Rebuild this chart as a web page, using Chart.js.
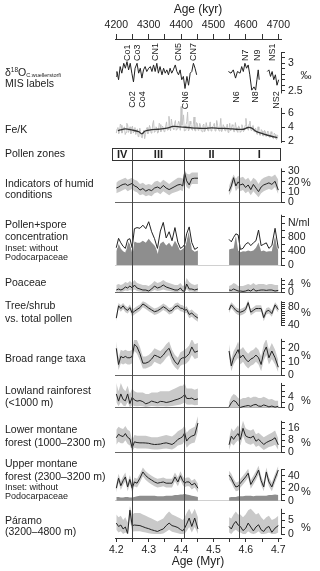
<!DOCTYPE html>
<html>
<head>
<meta charset="utf-8">
<script src="https://cdn.jsdelivr.net/npm/chart.js@4.4.1/dist/chart.umd.min.js"></script>
<style>
body{margin:0;background:#fff}
#wrap{position:relative;width:320px;height:571px;overflow:hidden;background:#fff}
canvas{display:block}
.lab{position:absolute;left:5px;white-space:nowrap;font-family:'Liberation Sans',Arial,sans-serif;font-size:10.5px;line-height:12px;color:#222}
.lab.small{font-size:9px;line-height:10px}
.lab sup{font-size:6.5px;vertical-align:4px;line-height:0}
.lab sub{font-size:5.5px;vertical-align:-1px;line-height:0}
</style>
</head>
<body>
<div id="wrap"><canvas id="chart" width="320" height="571"></canvas></div>
<script>
const FONT = "'Liberation Sans', Arial, sans-serif";

// axes
const myrTicks = [4.2, 4.25, 4.3, 4.35, 4.4, 4.45, 4.5, 4.55, 4.6, 4.65, 4.7];
const kyrTicks = [4200, 4250, 4300, 4350, 4400, 4450, 4500, 4550, 4600, 4650, 4700];

// pollen zones and MIS labels
const zoneNames = ['IV', 'III', 'II', 'I'];
const zoneEdges = [4.186, 4.25, 4.41, 4.578, 4.705];
const misUp = ['Co1', 'Co3', 'CN1', 'CN5', 'CN7', 'N7', 'N9', 'NS1'];
const misUpAge = [4.235, 4.266, 4.322, 4.392, 4.437, 4.598, 4.636, 4.681];
const misDown = ['Co2', 'Co4', 'CN6', 'N6', 'N8', 'NS2'];
const misDownAge = [4.249, 4.281, 4.413, 4.571, 4.631, 4.695];

// d18O C. wuellerstorfi
const d18Age = [4.200,4.202,4.207,4.212,4.217,4.223,4.228,4.233,4.238,4.243,
  4.248,4.253,4.258,4.264,4.269,4.274,4.279,4.284,4.289,4.294,
  4.300,4.305,4.310,4.315,4.320,4.325,4.330,4.335,4.341,4.346,
  4.351,4.356,4.361,4.366,4.371,4.376,4.382,4.387,4.392,4.397,
  4.402,4.407,4.412,4.418,4.423,4.428,4.433,4.438,4.443,4.448,
  4.500,
  4.546,4.554,4.561,4.568,4.574,4.582,4.587,4.592,4.597,4.602,4.607,4.612,4.618,4.625,4.630,4.634,4.638,4.641,
  4.650,
  4.666,4.671,4.676,4.681,4.686,4.691,4.696,4.701];
const d18 = [2.76,2.85,2.70,2.94,2.82,3.00,2.91,3.03,2.88,3.00,
  2.82,2.66,2.91,3.00,2.82,2.91,2.73,2.88,2.94,2.85,
  2.91,2.94,2.85,2.97,2.85,3.00,2.82,2.94,2.79,2.91,
  2.82,2.88,2.79,2.91,2.82,2.88,2.97,2.85,2.79,2.88,
  2.70,2.76,2.54,2.76,2.60,2.82,2.85,3.00,2.91,2.79,
  null,
  2.85,2.82,2.88,2.73,2.85,2.82,2.94,2.85,3.00,2.91,2.97,2.79,2.51,2.57,2.51,2.70,2.88,2.70,
  null,
  2.85,2.88,2.76,2.85,2.70,2.79,2.60,2.70];

// Fe/K (raw scanner values, two interleaved runs, and the smoothed curve)
const feAge = [4.200,4.205,4.210,4.215,4.220,4.225,4.230,4.235,4.240,4.245,
  4.250,4.255,4.260,4.265,4.270,4.275,4.280,4.285,4.290,4.295,
  4.300,4.305,4.310,4.315,4.320,4.325,4.330,4.335,4.340,4.345,
  4.350,4.355,4.360,4.365,4.370,4.375,4.380,4.385,4.390,4.395,
  4.400,4.405,4.410,4.415,4.420,4.425,4.430,4.435,4.440,4.445,
  4.450,4.455,4.460,4.465,4.470,4.475,4.480,4.485,4.490,4.495,
  4.500,4.505,4.510,4.515,4.520,4.525,4.530,4.535,4.540,4.545,
  4.550,4.555,4.560,4.565,4.570,4.575,4.580,4.585,4.590,4.595,
  4.600,4.605,4.610,4.615,4.620,4.625,4.630,4.635,4.640,4.645,
  4.650,4.655,4.660,4.665,4.670,4.675,4.680,4.685,4.690,4.695,
  4.700];
const feRaw = [3.2,4.0,3.4,4.3,3.5,4.1,3.3,4.4,3.6,3.1,
  4.2,3.5,3.0,3.8,2.9,3.4,2.5,3.6,3.0,4.0,
  3.3,3.9,3.4,5.0,3.5,3.9,3.3,4.4,3.6,4.0,
  3.5,4.8,3.7,4.3,5.2,3.9,4.6,3.6,4.4,4.6,
  7.0,4.9,3.5,4.4,6.2,3.7,4.5,3.6,5.5,3.5,
  4.6,3.8,4.2,3.4,4.5,3.6,4.1,3.5,4.8,3.7,
  4.3,3.5,5.0,3.8,4.2,3.4,4.4,3.6,4.0,3.3,
  4.6,3.7,4.2,3.4,4.0,3.3,4.1,3.5,4.0,3.6,
  5.3,3.9,4.5,3.7,4.2,3.4,3.9,3.0,3.6,2.9,
  3.5,2.8,3.4,2.7,3.3,2.6,3.1,2.4,3.0,2.3,
  2.8];
const feAgeB = [4.2025,4.2075,4.2125,4.2175,4.2225,4.2275,4.2325,4.2375,4.2425,4.2475,
  4.2525,4.2575,4.2625,4.2675,4.2725,4.2775,4.2825,4.2875,4.2925,4.2975,
  4.3025,4.3075,4.3125,4.3175,4.3225,4.3275,4.3325,4.3375,4.3425,4.3475,
  4.3525,4.3575,4.3625,4.3675,4.3725,4.3775,4.3825,4.3875,4.3925,4.3975,
  4.4025,4.4075,4.4125,4.4175,4.4225,4.4275,4.4325,4.4375,4.4425,4.4475,
  4.4525,4.4575,4.4625,4.4675,4.4725,4.4775,4.4825,4.4875,4.4925,4.4975,
  4.5025,4.5075,4.5125,4.5175,4.5225,4.5275,4.5325,4.5375,4.5425,4.5475,
  4.5525,4.5575,4.5625,4.5675,4.5725,4.5775,4.5825,4.5875,4.5925,4.5975,
  4.6025,4.6075,4.6125,4.6175,4.6225,4.6275,4.6325,4.6375,4.6425,4.6475,
  4.6525,4.6575,4.6625,4.6675,4.6725,4.6775,4.6825,4.6875,4.6925,4.6975];
const feRawB = [3.8,3.1,4.5,3.2,3.9,3.0,4.6,3.3,4.1,3.6,
  3.2,4.0,3.3,2.7,3.9,2.6,3.3,2.4,3.7,3.1,
  4.3,3.2,4.5,3.3,4.1,3.2,4.6,3.4,4.2,3.4,
  4.2,3.6,5.6,3.5,4.4,3.7,5.0,3.8,4.9,3.6,
  4.3,5.8,3.6,4.8,3.5,4.9,3.7,4.4,3.6,4.7,
  3.6,4.6,3.5,4.3,3.4,4.7,3.6,4.4,3.5,4.1,
  4.6,3.6,4.3,3.5,5.3,3.6,4.1,3.5,4.5,3.7,
  3.5,4.4,3.4,4.7,3.5,4.2,3.3,4.4,3.4,4.3,
  4.2,3.6,4.9,3.5,4.3,3.5,3.2,4.1,2.9,3.7,
  2.8,3.6,2.7,3.5,2.6,3.4,2.5,3.2,2.4,2.9];
const feSmoothAge = [4.205,4.212,4.228,4.248,4.269,4.279,4.289,4.310,4.330,4.356,4.376,4.397,4.423,
  4.448,4.474,4.494,4.520,4.546,4.571,4.592,4.607,4.618,4.633,4.653,4.679,4.697];
const feSmooth = [3.55,3.65,3.8,3.65,3.4,3.1,3.5,3.7,3.75,3.9,4.15,4.1,4.0,
  3.9,3.88,3.95,3.88,3.85,3.75,3.75,4.0,3.9,3.4,3.1,2.75,2.55];

// pollen samples (null = hiatus)
const pollenAge = [4.200,4.207,4.214,4.221,4.228,4.235,4.242,4.249,4.256,4.264,
  4.273,4.282,4.291,4.300,4.309,4.318,4.327,4.336,4.345,4.354,
  4.363,4.372,4.381,4.390,4.398,4.405,4.411,4.417,4.425,4.433,
  4.442,4.452,
  4.500,
  4.548,4.555,4.562,4.569,4.576,4.583,4.591,4.599,4.607,4.615,
  4.623,4.631,4.639,4.647,4.655,4.663,4.671,4.680,4.690,4.700];

const humid = [14,15,16.5,17.5,18,16.5,17.5,18.5,16,15,12,13.5,11,12.5,11.5,14,15,13.5,16.5,14,12.5,14,15.5,17,17.5,16,29,21,17,23,23.5,23.5,
  null, 11,16,24,16,20,17,18,14.5,17,12.5,17.5,14,10.5,15,17,18,19,17.5,20.5,12];
const humidHi = [19,21,22,23,24,22,23,24,22,21,18,19,17,18,17,20,21,19,22,20,18,20,22,24,24,23,32,28,27,29,29,29,
  null, 16,22,27,23,26,24,25,22,24,20,24,22,18,22,24,25,26,25,27,22];
const humidLo = [9,10,11,12,13,11,12,13,11,10,7,8,6,7,6,9,10,8,11,9,7,9,10,11,12,11,20,15,13,18,18,18,
  null, 7,11,19,11,14,11,12,9,11,7,11,8,5,9,11,12,13,12,15,8];

const conc = [500,770,640,540,480,730,760,500,1050,1080,1060,1150,1050,1250,960,760,480,980,1230,780,960,700,1080,660,480,520,600,900,1100,650,450,510,
  null, 740,670,800,900,870,450,480,600,650,560,640,700,1010,560,600,640,480,560,1060,480];
const concNoPodo = [400,620,470,400,360,700,600,420,680,640,640,700,640,760,650,560,420,620,680,560,640,520,700,560,420,460,520,700,1050,450,380,420,
  null, 450,470,480,860,420,370,400,390,420,400,420,500,650,400,420,380,400,400,900,400];

const poa = [1,1.5,1,1.5,2.5,2,3,2,3.5,2,1.5,1,1,0.5,1.5,3,2,2.5,3.5,2.5,2,1.5,1,1,2,0.5,0.5,4,1.5,1.5,1,1.5,
  null, 1,0.8,1.5,1,0.5,0.5,0.3,0.5,1,0.5,1.5,0.5,0.8,1,1,0.8,1,1,0.5,0.8];
const poaHi = [3.5,4,3.5,4,5,4.5,5.5,4.5,6,4.5,4,3.5,3.5,3,4,5.5,4.5,5,6,5,4.5,4,3.5,3.5,4.5,3,3.5,7,5,4,3.5,4,
  null, 3,3.5,4.5,4,3,3,3,3.5,4,3.5,4.5,3.5,4,4,4,3.5,4,4,3.5,3.5];
const poaLo = [0,0.3,0,0.3,0.8,0.5,1,0.5,1.2,0.5,0.3,0,0,0,0.3,1,0.5,0.8,1.2,0.8,0.5,0.3,0,0,0.5,0,0,1.5,0.3,0.3,0,0.3,
  null, 0,0,0,0,0,0,0,0,0,0,0,0,0,0,0,0,0,0,0,0];

const tree = [55,82,76,82,75,72,78,66,70,74,78,86,82,77,73,69,71,75,80,76,70,72,80,82,77,76,72,74,63,66,60,55,
  null, 73,84,78,72,69,68,70,74,89,68,72,76,76,76,56,70,72,65,84,74];
const treeHi = [62,88,83,88,82,79,85,74,77,81,85,92,89,84,80,76,78,82,87,83,77,79,87,89,84,83,79,81,71,74,68,63,
  null, 80,90,85,79,76,75,77,81,95,75,79,83,83,83,64,77,79,72,90,81];
const treeLo = [48,75,69,75,68,65,71,58,63,67,71,79,75,70,66,62,64,68,73,69,63,65,73,75,70,69,65,67,55,58,52,47,
  null, 66,77,71,65,62,61,63,67,82,61,65,69,69,69,48,63,65,58,77,67];

const broad = [20,8,14,13,14,13,13,14,23,21,16,9,9,10,12,15,14,13,15,18,20,14,10,8,12,13,13,14,16,21,17,18,
  null, 18,7,13,16,19,13,15,12,10,12,13,15,13,8,17,21,13,18,13,6];
const broadHi = [25,13,19,18,19,18,18,19,28,26,21,14,14,15,17,20,19,18,20,23,25,19,15,13,17,18,19,20,22,27,23,24,
  null, 23,12,18,21,25,19,21,18,16,18,19,21,19,14,23,27,19,24,19,11];
const broadLo = [15,4,9,8,9,8,8,9,18,16,11,5,5,6,7,10,9,8,10,13,15,9,6,4,7,8,8,9,11,15,12,13,
  null, 13,3,8,11,13,8,10,7,5,7,8,10,8,3,11,15,8,12,8,2];

const lowland = [5,2.4,5,3,2.5,5,1.5,3.8,2.8,2.4,2.6,2.2,1.4,1.8,2.4,2.1,1.8,2.3,2.2,1.9,2.1,2.4,2.8,3.1,3.5,4,4.8,3.4,3.3,3.5,2.9,3.2,
  null, 0.3,1.8,2.6,2.2,1,0.1,0.4,0.6,0.8,0.5,1,1.2,0.6,0.5,1,0.7,0.3,0.6,0.2,0.5];
const lowlandHi = [9,6,9,7,6,8,5,7,6,5.5,5.5,5.5,5,5,5.5,5.5,5.5,6,6,6,6,6.5,7,7.5,8,8,9,7,7,7,6.5,7,
  null, 2,4,5,4.5,3.5,3,3.5,3.5,4,3.5,4,4,3.5,3.5,4,3.5,3,3.2,2.5,2.5];
const lowlandLo = [2,0.5,2,0.8,0.5,2,0.2,1,0.6,0.5,0.6,0.5,0.3,0.4,0.6,0.5,0.4,0.5,0.5,0.4,0.5,0.6,0.8,1,1.2,1.5,2,1.2,1.1,1.2,0.9,1,
  null, 0,0,0,0,0,0,0,0,0,0,0,0,0,0,0,0,0,0,0,0];

const lowerMont = [9.7,12,11,10.5,12.5,10,9,3,7,6.5,6.3,6.3,6.2,6,5.5,5.2,5.3,5.5,6,6.3,5.8,5.2,6.5,8.6,9.5,10.5,13,7.5,9.7,10.8,11.5,19.5,
  null, 5,10.8,8.6,11,12.5,8.6,16,11,10,9.7,10.8,7.4,8.6,7,5.2,6.5,7.4,8.2,9.7,5];
const lowerMontHi = [15,17,16,15.5,17.5,15,14,8,11.5,11,11,11,11,10.5,10,10,10,10.5,11,11.5,11,10.5,12,14,15,16,18,13,15,16,17,24,
  null, 9,16,14,16,18,14,21,16,15,14.5,15.5,12,13,11.5,10,11,12,13,14.5,9];
const lowerMontLo = [5,7,6,6,8,5.5,4.5,0.5,3,2.5,2.5,2.5,2.5,2.3,2,1.8,1.8,2,2.3,2.5,2.2,1.8,2.8,4.5,5,5.5,8,3,5,6,6.5,14,
  null, 1.5,6,4.5,6.5,8,4.5,11,6.5,5.5,5,6,3.5,4.5,3,1.5,2.5,3.5,4,5,1.5];

const upperMont = [20,36,24,32,38,22,34,20,30,28,36,46,40,36,33,30,28,29,30,28,28,28,38,30,40,32,28,30,30,25,28,20,
  null, 41,36,28,22,23,28,33,38,44,26,33,40,49,32,22,46,30,22,36,49];
const upperMontHi = [27,43,31,39,45,29,41,27,37,35,43,53,47,43,40,37,35,36,37,35,35,35,45,37,47,39,35,37,37,32,35,27,
  null, 48,43,35,29,30,35,40,45,51,33,40,47,56,39,29,53,37,29,43,56];
const upperMontLo = [13,29,17,25,31,15,27,13,23,21,29,39,33,29,26,23,21,22,23,21,21,21,31,23,33,25,21,23,23,18,21,13,
  null, 34,29,21,15,16,21,26,31,37,19,26,33,42,25,15,39,23,15,29,42];
const upperMontNoPodo = [6,6,5,5,6,6,5,5,6,7,8,8,8,8,8,8,7,7,7,8,8,8,9,9,10,10,11,10,9,8,7,6,
  null, 5,6,6,6,7,7,7,8,8,8,7,8,8,8,8,8,9,9,10,9];

const paramo = [3.9,2.7,3.2,1.8,2.5,0.2,8.5,3,3.2,3.1,3,2.6,2.2,1.9,1.5,1.2,0.9,1.4,1.8,3,3.9,3,2.7,2.3,1.6,1.1,2.1,3.5,5.7,2.7,5.7,1.8,
  null, 2.7,1.8,3.5,4.5,3.2,2.7,1.2,2,3.9,2.5,1.1,2.5,3.3,1.5,0.9,2.2,2.7,0.6,2.1,3];
const paramoHi = [7,6,6.5,5,6,4,10,7,7.5,7.5,7.5,7,6.5,6,5.5,5,4.5,5,5.5,7,8,7,6.5,6,5.5,5,6,7.5,9,7,9,6,
  null, 6,5.5,7,8,7,7,6,7,8.5,9,8,7,7.5,6,5,6,6.5,5,5.5,6.5];
const paramoLo = [1.5,0.5,1,0,0.5,0,5,0.8,1,1,1,0.7,0.5,0.3,0.1,0,0,0,0.2,0.8,1.5,0.8,0.5,0.3,0,0,0.2,1,2.5,0.5,2.5,0,
  null, 0.5,0,1,1.5,0.8,0.5,0,0,1,0.3,0,0.3,1,0,0,0.2,0.5,0,0,0.5];

// left-hand panel names
const sideLabels = [
  ['δ<sup>18</sup>O<sub>C.wuellerstorfi</sub>', 72, false],
  ['MIS labels', 82.5, false],
  ['Fe/K', 129, false],
  ['Pollen zones', 153, false],
  ['Indicators of humid', 182.5, false],
  ['conditions', 194, false],
  ['Pollen+spore', 224, false],
  ['concentration', 236, false],
  ['Inset: without', 247.5, true],
  ['Podocarpaceae', 257, true],
  ['Poaceae', 282, false],
  ['Tree/shrub', 305, false],
  ['vs. total pollen', 318, false],
  ['Broad range taxa', 358, false],
  ['Lowland rainforest', 390, false],
  ['(&lt;1000 m)', 402, false],
  ['Lower montane', 429, false],
  ['forest (1000–2300 m)', 442, false],
  ['Upper montane', 463, false],
  ['forest (2300–3200 m)', 475.5, false],
  ['Inset: without', 487, true],
  ['Podocarpaceae', 496, true],
  ['Páramo', 519.5, false],
  ['(3200–4800 m)', 531, false]
];

// layout of the stacked panels (pixel rows, two reference values per axis)
const panels = [
  {id: 'yO', top: 39, bottom: 102, ref: [2.5, 90.7, 3, 63.3], ticks: [2.5, 2.6, 2.7, 2.8, 2.9, 3, 3.1, 3.2], show: [2.5, 3], axis: [2.45, 3.2], unit: '‰', unitAt: 2.76},
  {id: 'yFe', top: 102, bottom: 146, ref: [2, 141.5, 6, 113.5], ticks: [2, 4, 6], show: [2, 4, 6], axis: [1.8, 6.8]},
  {id: 'yZ', top: 146, bottom: 161, ref: [0, 161, 1, 146], ticks: [], show: []},
  {id: 'yHum', top: 161, bottom: 208, ref: [0, 202.5, 30, 171.5], ticks: [0, 10, 20, 30], show: [0, 10, 20, 30], axis: [0, 33], unit: '%', unitAt: 19, base: '#666'},
  {id: 'yConc', top: 208, bottom: 274, ref: [0, 265, 800, 237.3], ticks: [0, 200, 400, 600, 800, 1000, 1200, 1400], show: [0, 400, 800], names: {1200: 'N/ml'}, axis: [0, 1450], base: '#d0d0d0'},
  {id: 'yPoa', top: 274, bottom: 297, ref: [0, 292, 4, 284], ticks: [0, 2, 4, 6], show: [0, 4], axis: [0, 7], unit: '%', unitAt: 4, base: '#666'},
  {id: 'yTree', top: 297, bottom: 340, ref: [40, 325, 80, 306.7], ticks: [40, 45, 50, 55, 60, 65, 70, 75, 80, 85, 90], show: [40, 80], axis: [38, 92], unit: '%', unitAt: 67},
  {id: 'yBroad', top: 340, bottom: 380, ref: [0, 375.3, 20, 348.3], ticks: [0, 5, 10, 15, 20, 25], show: [0, 10, 20], axis: [0, 27], unit: '%', unitAt: 14.5, base: '#666'},
  {id: 'yLow', top: 380, bottom: 414, ref: [0, 407.7, 4, 396.7], ticks: [0, 2, 4, 6, 8], show: [0, 4], axis: [0, 9], unit: '%', unitAt: 2.3, base: '#666'},
  {id: 'yLM', top: 414, bottom: 458, ref: [0, 452.3, 16, 428.3], ticks: [0, 4, 8, 12, 16, 20], show: [0, 8, 16], axis: [0, 21], unit: '%', unitAt: 6.5, base: '#666'},
  {id: 'yUM', top: 458, bottom: 506, ref: [0, 500.7, 40, 475.7], ticks: [0, 10, 20, 30, 40, 50], show: [0, 20, 40], axis: [0, 50], unit: '%', unitAt: 14, base: '#d0d0d0'},
  {id: 'yPar', top: 506, bottom: 538, ref: [0, 534, 5, 520], ticks: [0, 2.5, 5, 7.5], show: [0, 5], axis: [0, 9], unit: '%', unitAt: 2.3}
];

const X_MIN = 4.196, X_MAX = 4.7083;
const LINE = '#222', BAND = '#c9c9c9', AREA = '#8e8e8e';

const wrap = document.getElementById('wrap');
sideLabels.forEach(([t, y, small]) => {
  const d = document.createElement('div');
  d.className = small ? 'lab small' : 'lab';
  d.style.top = (y - (small ? 5 : 6)) + 'px';
  d.innerHTML = t;
  wrap.appendChild(d);
});

const pts = (xs, ys) => xs.map((x, i) => ({x: x, y: ys[i]}));
const datasets = [];
function addLine(axis, data, color, width, order, tension) {
  datasets.push({xAxisID: 'x', yAxisID: axis, data: data, borderColor: color, borderWidth: width,
    pointRadius: 0, fill: false, order: order, tension: tension || 0});
}
function addBand(axis, xs, hi, lo) {
  datasets.push({xAxisID: 'x', yAxisID: axis, data: pts(xs, hi), borderColor: 'rgba(0,0,0,0)', borderWidth: 0,
    pointRadius: 0, fill: false, order: 3});
  datasets.push({xAxisID: 'x', yAxisID: axis, data: pts(xs, lo), borderColor: 'rgba(0,0,0,0)', borderWidth: 0,
    pointRadius: 0, fill: '-1', backgroundColor: BAND, order: 3});
}
function addArea(axis, xs, ys) {
  datasets.push({xAxisID: 'x', yAxisID: axis, data: pts(xs, ys), borderColor: 'rgba(0,0,0,0)', borderWidth: 0,
    pointRadius: 0, fill: 'origin', backgroundColor: AREA, order: 2});
}

// both raw Fe/K runs merged into one trace, ordered by age
const feAll = pts(feAge, feRaw).concat(pts(feAgeB, feRawB)).sort((a, b) => a.x - b.x);

addLine('yO', pts(d18Age, d18), LINE, 1, 0);
addLine('yFe', feAll, '#c2c2c2', 1, 1);
addLine('yFe', pts(feSmoothAge, feSmooth), '#333', 1.3, 0, 0.4);
addBand('yHum', pollenAge, humidHi, humidLo);
addLine('yHum', pts(pollenAge, humid), LINE, 1, 0);
addArea('yConc', pollenAge, concNoPodo);
addLine('yConc', pts(pollenAge, conc), '#fff', 2.6, 1);
addLine('yConc', pts(pollenAge, conc), LINE, 1, 0);
addBand('yPoa', pollenAge, poaHi, poaLo);
addLine('yPoa', pts(pollenAge, poa), LINE, 1, 0);
addBand('yTree', pollenAge, treeHi, treeLo);
addLine('yTree', pts(pollenAge, tree), LINE, 1, 0);
addBand('yBroad', pollenAge, broadHi, broadLo);
addLine('yBroad', pts(pollenAge, broad), LINE, 1, 0);
addBand('yLow', pollenAge, lowlandHi, lowlandLo);
addLine('yLow', pts(pollenAge, lowland), LINE, 1, 0);
addBand('yLM', pollenAge, lowerMontHi, lowerMontLo);
addLine('yLM', pts(pollenAge, lowerMont), LINE, 1, 0);
addBand('yUM', pollenAge, upperMontHi, upperMontLo);
addArea('yUM', pollenAge, upperMontNoPodo);
addLine('yUM', pts(pollenAge, upperMont), LINE, 1, 0);
addBand('yPar', pollenAge, paramoHi, paramoLo);
addLine('yPar', pts(pollenAge, paramo), LINE, 1, 0);

const tickFont = {family: FONT, size: 10.5};
const scales = {
  x: {
    type: 'linear', position: 'bottom', min: X_MIN, max: X_MAX,
    afterBuildTicks: s => { s.ticks = myrTicks.map(v => ({value: v})); },
    afterFit: s => { s.height = 33; },
    ticks: {autoSkip: false, maxRotation: 0, padding: 2, color: '#222', font: tickFont,
      callback: (v, i) => i % 2 === 0 ? v.toFixed(1) : ''},
    grid: {drawOnChartArea: false, tickLength: 4, tickColor: '#333'},
    border: {color: '#333'},
    title: {display: true, text: 'Age (Myr)', color: '#222', font: {family: FONT, size: 12}, padding: {top: 0, bottom: 2}}
  },
  xTop: {
    type: 'linear', axis: 'x', position: 'top', min: X_MIN * 1000, max: X_MAX * 1000,
    afterBuildTicks: s => { s.ticks = kyrTicks.map(v => ({value: v})); },
    afterFit: s => { s.height = 39; },
    ticks: {autoSkip: false, maxRotation: 0, padding: 3, color: '#222', font: tickFont,
      callback: (v, i) => i % 2 === 0 ? String(v) : ''},
    grid: {drawOnChartArea: false, tickLength: 5, tickColor: '#333'},
    border: {color: '#333'},
    title: {display: true, text: 'Age (kyr)', color: '#222', font: {family: FONT, size: 12}, padding: {top: 2, bottom: 0}}
  }
};

panels.forEach((p, i) => {
  const [v0, p0, v1, p1] = p.ref;
  const k = (p0 - p1) / (v1 - v0);
  scales[p.id] = {
    type: 'linear', axis: 'y', position: 'right', stack: 'panels', stackWeight: p.bottom - p.top, weight: i,
    min: v0 - (p.bottom - p0) / k, max: v1 + (p1 - p.top) / k,
    afterBuildTicks: s => { s.ticks = p.ticks.map(v => ({value: v})); },
    afterFit: s => { s.width = 39; },
    border: {display: false},
    grid: {
      display: p.ticks.length > 0,
      drawOnChartArea: !!p.base,
      color: c => (p.base && c.tick && c.tick.value === 0) ? p.base : 'rgba(0,0,0,0)',
      tickColor: '#333', tickLength: 4, lineWidth: 1
    },
    ticks: {
      display: p.ticks.length > 0, autoSkip: false, padding: 3, color: '#222', font: tickFont,
      callback: v => (p.names && p.names[v]) ? p.names[v] : (p.show.includes(v) ? String(v) : '')
    }
  };
});

const decor = {
  id: 'decor',
  afterDatasetsDraw(chart) {
    const {ctx, scales: sc, chartArea} = chart;
    const xs = sc.x;
    ctx.save();
    ctx.strokeStyle = '#333';
    ctx.lineWidth = 1;
    ctx.fillStyle = '#222';
    panels.forEach(p => {
      const s = sc[p.id];
      if (p.axis) {
        const px = Math.round(s.left) + 0.5;
        ctx.beginPath();
        ctx.moveTo(px, s.getPixelForValue(p.axis[1]));
        ctx.lineTo(px, s.getPixelForValue(p.axis[0]));
        ctx.stroke();
      }
      if (p.unit) {
        ctx.font = '11px ' + FONT;
        ctx.textAlign = 'center';
        ctx.textBaseline = 'middle';
        ctx.fillText(p.unit, s.left + 25, s.getPixelForValue(p.unitAt));
      }
    });

    // pollen zones
    const z = sc.yZ;
    const zt = Math.round(z.getPixelForValue(0.9)) + 0.5;
    const zb = Math.round(z.getPixelForValue(0.1)) + 0.5;
    const zl = Math.round(xs.getPixelForValue(zoneEdges[0])) + 0.5;
    const zr = Math.round(xs.getPixelForValue(zoneEdges[zoneEdges.length - 1])) + 0.5;
    ctx.strokeRect(zl, zt, zr - zl, zb - zt);
    ctx.strokeStyle = '#444';
    for (let i = 1; i < zoneEdges.length - 1; i++) {
      const px = Math.round(xs.getPixelForValue(zoneEdges[i])) + 0.5;
      ctx.beginPath();
      ctx.moveTo(px, zt);
      ctx.lineTo(px, chartArea.bottom);
      ctx.stroke();
    }
    ctx.font = 'bold 11px ' + FONT;
    ctx.textAlign = 'center';
    ctx.textBaseline = 'middle';
    zoneNames.forEach((n, i) => {
      const cx = (xs.getPixelForValue(zoneEdges[i]) + xs.getPixelForValue(zoneEdges[i + 1])) / 2;
      ctx.fillText(n, cx, (zt + zb) / 2 + 0.5);
    });

    // MIS labels
    const o = sc.yO;
    ctx.font = '9px ' + FONT;
    ctx.textBaseline = 'middle';
    const rot = (t, x, y, align) => {
      ctx.save();
      ctx.translate(x, y);
      ctx.rotate(-Math.PI / 2);
      ctx.textAlign = align;
      ctx.fillText(t, 0, 0);
      ctx.restore();
    };
    misUp.forEach((t, i) => rot(t, xs.getPixelForValue(misUpAge[i]), o.getPixelForValue(3.04), 'left'));
    misDown.forEach((t, i) => rot(t, xs.getPixelForValue(misDownAge[i]), o.getPixelForValue(2.49), 'right'));
    ctx.restore();
  }
};

Chart.defaults.font.family = FONT;
new Chart(document.getElementById('chart').getContext('2d'), {
  type: 'line',
  data: {datasets: datasets},
  options: {
    responsive: false,
    animation: false,
    devicePixelRatio: 1,
    layout: {padding: {left: 115, right: 0, top: 0, bottom: 0}},
    plugins: {legend: {display: false}, tooltip: {enabled: false}},
    elements: {point: {radius: 0}},
    scales: scales
  },
  plugins: [decor]
});
</script>
</body>
</html>
